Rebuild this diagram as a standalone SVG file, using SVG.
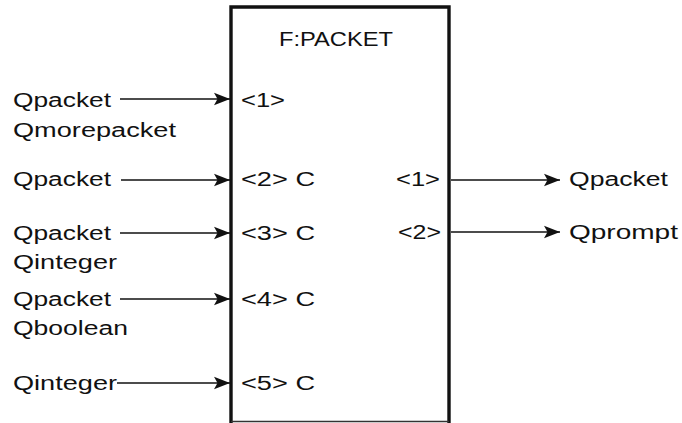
<svg xmlns="http://www.w3.org/2000/svg" width="682" height="423" viewBox="0 0 682 423">
  <style>
    text { font-family: "Liberation Sans", Arial, sans-serif; font-size: 20px; fill: #111; }
    .edge { stroke: #111; stroke-width: 1.6; fill: none; }
    .frame { stroke: #111; stroke-width: 3.4; fill: none; }
    .bottom { stroke: #333; stroke-width: 1.6; fill: none; }
  </style>
  <defs>
    <marker id="arrow" viewBox="0 0 17 14" refX="16" refY="7" markerWidth="17" markerHeight="14" markerUnits="userSpaceOnUse" orient="auto">
      <path d="M0,0.8 L16,7 L0,13.2 L3.5,7 Z" fill="#111"/>
    </marker>
  </defs>
  <rect width="682" height="423" fill="#fff"/>

  <g id="node-fpacket">
    <path class="frame" d="M231,423 L231,7 L449,7 L449,423"/>
    <line class="bottom" x1="231" y1="421.5" x2="449" y2="421.5"/>
    <text x="279" y="46" textLength="114" lengthAdjust="spacingAndGlyphs">F:PACKET</text>
    <text x="241" y="107" textLength="44" lengthAdjust="spacingAndGlyphs">&lt;1&gt;</text>
    <text x="241" y="186" textLength="74" lengthAdjust="spacingAndGlyphs">&lt;2&gt; C</text>
    <text x="241" y="240" textLength="74" lengthAdjust="spacingAndGlyphs">&lt;3&gt; C</text>
    <text x="241" y="306" textLength="74" lengthAdjust="spacingAndGlyphs">&lt;4&gt; C</text>
    <text x="241" y="390" textLength="74" lengthAdjust="spacingAndGlyphs">&lt;5&gt; C</text>
    <text x="396" y="186" textLength="44" lengthAdjust="spacingAndGlyphs">&lt;1&gt;</text>
    <text x="398" y="239" textLength="43" lengthAdjust="spacingAndGlyphs">&lt;2&gt;</text>
  </g>

  <g id="inputs">
    <text x="13" y="107" textLength="98" lengthAdjust="spacingAndGlyphs">Qpacket</text>
    <text x="13" y="137" textLength="163" lengthAdjust="spacingAndGlyphs">Qmorepacket</text>
    <text x="13" y="186" textLength="98" lengthAdjust="spacingAndGlyphs">Qpacket</text>
    <text x="13" y="240" textLength="98" lengthAdjust="spacingAndGlyphs">Qpacket</text>
    <text x="13" y="269" textLength="104" lengthAdjust="spacingAndGlyphs">Qinteger</text>
    <text x="13" y="306" textLength="98" lengthAdjust="spacingAndGlyphs">Qpacket</text>
    <text x="13" y="335" textLength="115" lengthAdjust="spacingAndGlyphs">Qboolean</text>
    <text x="13" y="390" textLength="104" lengthAdjust="spacingAndGlyphs">Qinteger</text>
  </g>

  <g id="outputs">
    <text x="569" y="186" textLength="99" lengthAdjust="spacingAndGlyphs">Qpacket</text>
    <text x="569" y="239" textLength="109" lengthAdjust="spacingAndGlyphs">Qprompt</text>
  </g>

  <g id="connectors">
    <line class="edge" x1="120" y1="99" x2="230" y2="99" marker-end="url(#arrow)"/>
    <line class="edge" x1="121" y1="180" x2="230" y2="180" marker-end="url(#arrow)"/>
    <line class="edge" x1="120" y1="233" x2="230" y2="233" marker-end="url(#arrow)"/>
    <line class="edge" x1="120" y1="299" x2="230" y2="299" marker-end="url(#arrow)"/>
    <line class="edge" x1="117" y1="383" x2="230" y2="383" marker-end="url(#arrow)"/>
    <line class="edge" x1="451" y1="180" x2="560" y2="180" marker-end="url(#arrow)"/>
    <line class="edge" x1="451" y1="232" x2="560" y2="232" marker-end="url(#arrow)"/>
  </g>
</svg>
